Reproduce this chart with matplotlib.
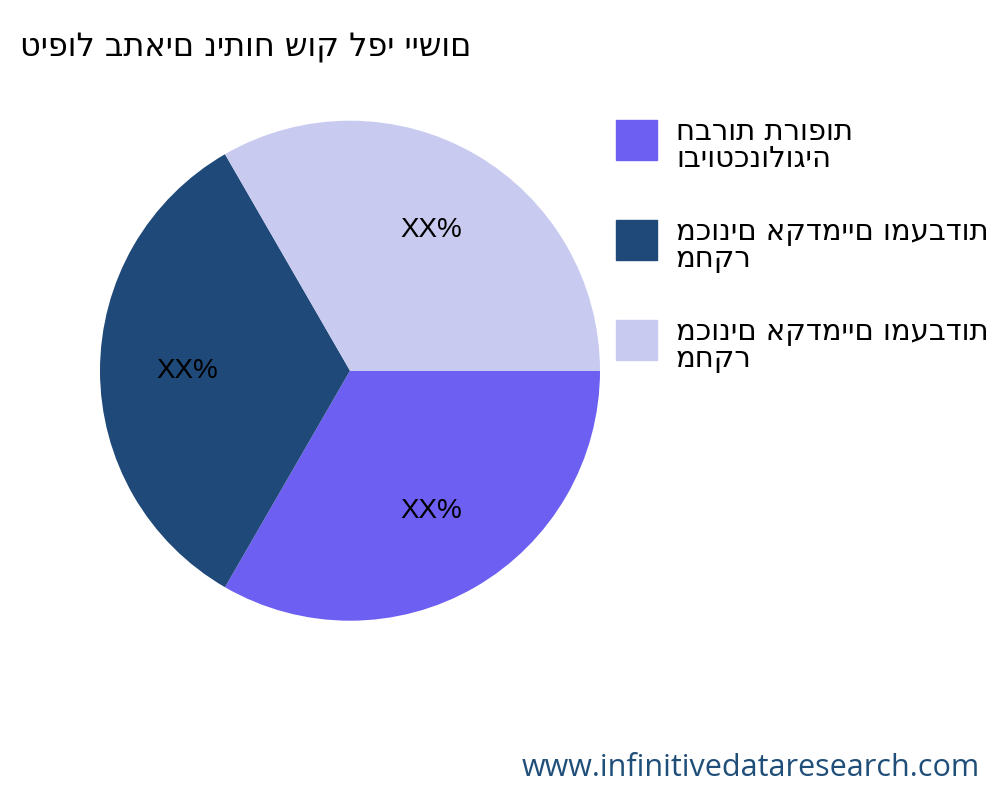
import matplotlib
matplotlib.use("Agg")
import matplotlib.pyplot as plt
from matplotlib.patches import Rectangle
import numpy as np

plt.rcParams["font.family"] = ["DejaVu Sans"]

title = "טיפול בתאים ניתוח שוק לפי יישום"
labels = [
    "חברות תרופות\nוביוטכנולוגיה",
    "מכונים אקדמיים ומעבדות\nמחקר",
    "מכונים אקדמיים ומעבדות\nמחקר",
]
values = [1, 1, 1]
pct_labels = ["XX%", "XX%", "XX%"]
colors = ["#6c5ff2", "#1f4978", "#c8caf0"]

fig = plt.figure(figsize=(10, 8), dpi=100)
ax = fig.add_axes([0.0375, 0.146, 0.625, 0.78125])
wedges, _ = ax.pie(values, colors=colors, startangle=0, counterclock=False,
                   wedgeprops={"linewidth": 0})
for w, txt in zip(wedges, pct_labels):
    ang = np.deg2rad((w.theta1 + w.theta2) / 2)
    ax.text(0.65 * np.cos(ang), 0.65 * np.sin(ang), txt, ha="center", va="center",
            fontsize=20, family=["Liberation Sans", "DejaVu Sans"])
ax.set_aspect("equal")

fig.text(0.02, 0.94, title, fontsize=23, ha="left", va="center")

for i, (lab, c) in enumerate(zip(labels, colors)):
    top = 1 - (120 + 100 * i) / 800
    fig.patches.append(Rectangle((0.616, top - 40 / 800), 0.041, 40 / 800,
                                 transform=fig.transFigure, color=c))
    fig.text(0.676, top + 2 / 800, lab, fontsize=21, ha="left", va="top",
             linespacing=0.95)

fig.text(0.98, 0.04, "www.infinitivedataresearch.com", fontsize=22,
         color="#1f4e79", ha="right", va="center",
         family=["Open Sans", "DejaVu Sans"])

fig.savefig("out.png", dpi=100)
